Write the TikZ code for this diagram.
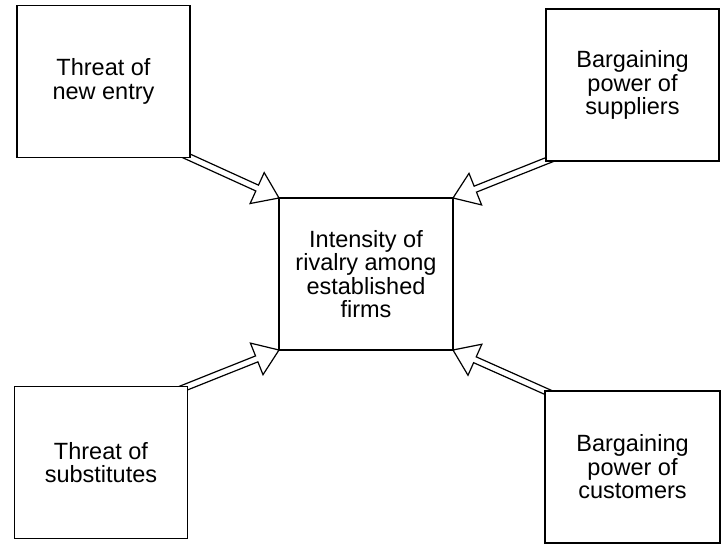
\documentclass[tikz,border=0pt]{standalone}
\usepackage{fontspec}
\setmainfont{Liberation Sans}
\usetikzlibrary{calc,backgrounds}

\tikzset{
  forcebox/.style={draw, fill=white, line width=1.3pt, inner sep=0pt, outer sep=0pt,
    minimum width=173pt, minimum height=152pt, align=center,
    font=\fontsize{23.5}{23.5}\selectfont},
  arrowline/.style={draw, line width=1.2pt, line join=miter},
}

% Hollow double-line arrow from node anchor #1 to node anchor #2
\newcommand{\hollowarrow}[2]{%
  \coordinate (ha-s) at ($(#1)!-8pt!(#2)$);
  \coordinate (ha-b) at ($(#2)!24pt!(#1)$);
  \draw[arrowline]
    ($(ha-s)!3.2pt!90:(#2)$) -- ($(ha-b)!3.2pt!90:(#2)$)
    -- ($(ha-b)!17pt!90:(#2)$) -- (#2)
    -- ($(ha-b)!17pt!-90:(#2)$) -- ($(ha-b)!3.2pt!-90:(#2)$)
    -- ($(ha-s)!3.2pt!-90:(#2)$);
}

\begin{document}
\begin{tikzpicture}[x=1pt, y=-1pt]
  \useasboundingbox (0,0) rectangle (722,545);

  % five forces
  \node[forcebox] (entry)  at (103.5,81.5) {Threat of\\new entry};
  \node[forcebox] (supp)   at (632.5,85)   {Bargaining\\power of\\suppliers};
  \node[forcebox] (subst)  at (101,462.5)  {Threat of\\substitutes};
  \node[forcebox, minimum width=175pt] (cust) at (632.5,467) {Bargaining\\power of\\customers};
  \node[forcebox, minimum width=174pt] (rival) at (366,274)
    {Intensity of\\rivalry among\\established\\firms};

  % arrows pointing at the rivalry box
  \begin{scope}[on background layer]
    \hollowarrow{entry.south east}{rival.north west}
    \hollowarrow{supp.south west}{rival.north east}
    \hollowarrow{subst.north east}{rival.south west}
    \hollowarrow{cust.north west}{rival.south east}
  \end{scope}
\end{tikzpicture}
\end{document}
